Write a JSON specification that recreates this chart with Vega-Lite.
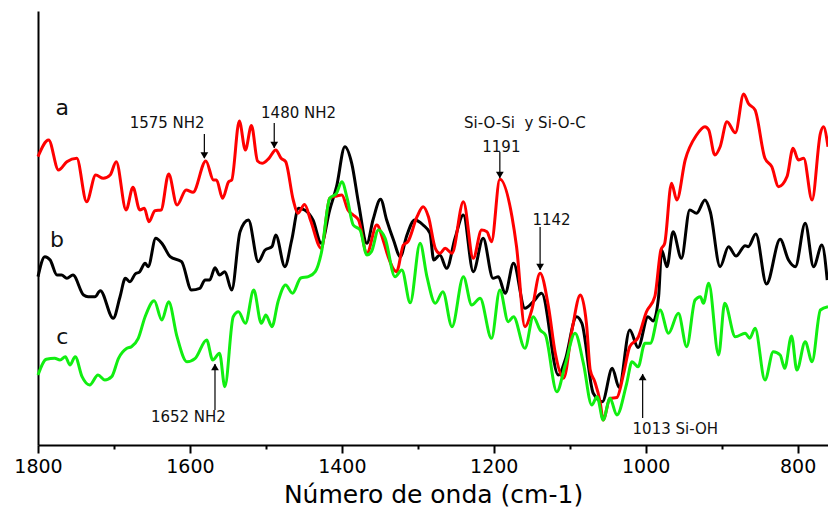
{
  "$schema": "https://vega.github.io/schema/vega-lite/v6.json",
  "width": 790,
  "height": 434,
  "autosize": "none",
  "padding": {"left": 38, "top": 11, "right": 0, "bottom": 68},
  "background": "white",
  "config": {"view": {"stroke": null}, "font": "DejaVu Sans"},
  "datasets": {
    "a": [
      {"wn":1800,"v":288.3},{"wn":1786,"v":305},{"wn":1773,"v":275},{"wn":1762,"v":283.3},{"wn":1749,"v":286.7},{"wn":1736,"v":243.3},{"wn":1724,"v":270},{"wn":1714,"v":266.7},{"wn":1705,"v":270},{"wn":1697,"v":283.3},{"wn":1684,"v":235},{"wn":1675,"v":257.7},{"wn":1666,"v":235},{"wn":1660,"v":236.7},{"wn":1654,"v":223.3},{"wn":1646,"v":234.3},{"wn":1638,"v":235},{"wn":1628,"v":271},{"wn":1617,"v":240},{"wn":1605,"v":255},{"wn":1596,"v":252.7},{"wn":1579,"v":284},{"wn":1569,"v":265},{"wn":1565,"v":265},{"wn":1557,"v":246.7},{"wn":1549,"v":263.3},{"wn":1545,"v":265},{"wn":1535,"v":324},{"wn":1527,"v":295},{"wn":1519,"v":319.5},{"wn":1511,"v":284},{"wn":1505,"v":281.7},{"wn":1496,"v":286.7},{"wn":1487,"v":295},{"wn":1480,"v":286.7},{"wn":1474,"v":283.3},{"wn":1464,"v":245},{"wn":1458,"v":231.7},{"wn":1449,"v":240.5},{"wn":1441,"v":224.3},{"wn":1427,"v":196.7},{"wn":1416,"v":246.7},{"wn":1407,"v":249},{"wn":1400,"v":250},{"wn":1392,"v":235},{"wn":1385,"v":230},{"wn":1378,"v":225},{"wn":1367,"v":191.7},{"wn":1354,"v":220},{"wn":1345,"v":203.3},{"wn":1339,"v":188.3},{"wn":1328,"v":173.3},{"wn":1319,"v":200},{"wn":1313,"v":203.3},{"wn":1301,"v":228.3},{"wn":1293,"v":238.3},{"wn":1286,"v":228.3},{"wn":1277,"v":196.7},{"wn":1271,"v":191.7},{"wn":1264,"v":196.7},{"wn":1255,"v":191.7},{"wn":1240,"v":243.3},{"wn":1227,"v":186.7},{"wn":1216,"v":215},{"wn":1209,"v":213.3},{"wn":1203,"v":203.3},{"wn":1192,"v":265.7},{"wn":1176,"v":228.3},{"wn":1170,"v":198.3},{"wn":1159,"v":118.3},{"wn":1150,"v":135},{"wn":1139,"v":171.7},{"wn":1128,"v":138.3},{"wn":1119,"v":91.7},{"wn":1108,"v":66.7},{"wn":1097,"v":115},{"wn":1086,"v":150},{"wn":1078,"v":121.7},{"wn":1073,"v":75},{"wn":1067,"v":63.3},{"wn":1060,"v":43.3},{"wn":1056,"v":25},{"wn":1047,"v":46.7},{"wn":1038,"v":47.5},{"wn":1029,"v":71.7},{"wn":1021,"v":98.3},{"wn":1010,"v":107.5},{"wn":999,"v":133.3},{"wn":988,"v":148.3},{"wn":980,"v":195},{"wn":975,"v":201.7},{"wn":966,"v":261.7},{"wn":959,"v":245},{"wn":948,"v":285},{"wn":933,"v":310},{"wn":922,"v":318.3},{"wn":917,"v":315},{"wn":909,"v":290},{"wn":902,"v":298.3},{"wn":893,"v":323.3},{"wn":882,"v":312.3},{"wn":871,"v":351},{"wn":865,"v":341.7},{"wn":856,"v":335},{"wn":843,"v":286.7},{"wn":834,"v":278.3},{"wn":825,"v":258.3},{"wn":814,"v":268.3},{"wn":806,"v":296.7},{"wn":799,"v":285},{"wn":792,"v":286.7},{"wn":781,"v":245},{"wn":770,"v":311.7},{"wn":766,"v":318.3},{"wn":760,"v":298.3}
    ],
    "b": [
      {"wn":1800,"v":168.3},{"wn":1791,"v":188.3},{"wn":1784,"v":185},{"wn":1775,"v":170},{"wn":1769,"v":170},{"wn":1762,"v":166.7},{"wn":1754,"v":170},{"wn":1740,"v":150},{"wn":1734,"v":148.3},{"wn":1725,"v":148.3},{"wn":1718,"v":154.3},{"wn":1701,"v":126.7},{"wn":1692,"v":148.3},{"wn":1685,"v":166.7},{"wn":1679,"v":163.3},{"wn":1672,"v":171},{"wn":1666,"v":173.3},{"wn":1659,"v":181.7},{"wn":1655,"v":178.3},{"wn":1645,"v":206.7},{"wn":1637,"v":201.7},{"wn":1626,"v":188.3},{"wn":1611,"v":183.3},{"wn":1598,"v":155},{"wn":1587,"v":156.7},{"wn":1580,"v":165},{"wn":1574,"v":165},{"wn":1567,"v":177.3},{"wn":1561,"v":170},{"wn":1554,"v":173.3},{"wn":1545,"v":155},{"wn":1534,"v":213.3},{"wn":1523,"v":225},{"wn":1510,"v":183.3},{"wn":1501,"v":195},{"wn":1492,"v":198.3},{"wn":1487,"v":210},{"wn":1475,"v":178.3},{"wn":1466,"v":205},{"wn":1457,"v":236.7},{"wn":1449,"v":235},{"wn":1438,"v":225},{"wn":1427,"v":201.7},{"wn":1416,"v":235},{"wn":1407,"v":258.3},{"wn":1396,"v":298.3},{"wn":1387,"v":281.7},{"wn":1378,"v":241.7},{"wn":1367,"v":201.7},{"wn":1359,"v":225},{"wn":1349,"v":245.7},{"wn":1341,"v":225},{"wn":1332,"v":205},{"wn":1323,"v":188.3},{"wn":1315,"v":208.3},{"wn":1304,"v":225},{"wn":1293,"v":220},{"wn":1284,"v":211.7},{"wn":1279,"v":185},{"wn":1271,"v":190},{"wn":1262,"v":176.7},{"wn":1251,"v":206.7},{"wn":1240,"v":230},{"wn":1227,"v":173.3},{"wn":1214,"v":206.7},{"wn":1201,"v":166.7},{"wn":1194,"v":168.3},{"wn":1185,"v":151.7},{"wn":1174,"v":181.7},{"wn":1159,"v":136.7},{"wn":1148,"v":143.3},{"wn":1137,"v":151.7},{"wn":1115,"v":70},{"wn":1106,"v":85},{"wn":1091,"v":128.3},{"wn":1084,"v":121.7},{"wn":1069,"v":51.7},{"wn":1057,"v":43.3},{"wn":1044,"v":76.7},{"wn":1035,"v":57.5},{"wn":1021,"v":115},{"wn":1010,"v":97.5},{"wn":997,"v":128.3},{"wn":990,"v":124},{"wn":983,"v":148.3},{"wn":979,"v":195},{"wn":972,"v":178.3},{"wn":964,"v":213.3},{"wn":953,"v":186.7},{"wn":942,"v":235},{"wn":933,"v":231.7},{"wn":922,"v":245},{"wn":915,"v":233.3},{"wn":902,"v":178.3},{"wn":891,"v":198.3},{"wn":881,"v":189},{"wn":869,"v":199.3},{"wn":865,"v":198.3},{"wn":855,"v":211},{"wn":841,"v":161},{"wn":823,"v":205.7},{"wn":812,"v":185},{"wn":803,"v":178.3},{"wn":790,"v":221.7},{"wn":779,"v":178.3},{"wn":768,"v":200},{"wn":761,"v":165}
    ],
    "c": [
      {"wn":1800,"v":70},{"wn":1789,"v":85.7},{"wn":1778,"v":86.7},{"wn":1771,"v":85},{"wn":1764,"v":88.3},{"wn":1758,"v":80},{"wn":1751,"v":88.3},{"wn":1742,"v":68.3},{"wn":1732,"v":60},{"wn":1721,"v":70},{"wn":1712,"v":65},{"wn":1703,"v":68.3},{"wn":1694,"v":86.7},{"wn":1683,"v":96.7},{"wn":1677,"v":98.3},{"wn":1668,"v":106.7},{"wn":1659,"v":128.3},{"wn":1647,"v":144.3},{"wn":1637,"v":125},{"wn":1628,"v":143.3},{"wn":1617,"v":108.3},{"wn":1604,"v":83.3},{"wn":1593,"v":86.7},{"wn":1578,"v":105},{"wn":1570,"v":85},{"wn":1561,"v":91.7},{"wn":1554,"v":58.3},{"wn":1543,"v":128.3},{"wn":1536,"v":133.3},{"wn":1527,"v":121.7},{"wn":1516,"v":155},{"wn":1506,"v":121.7},{"wn":1500,"v":130},{"wn":1492,"v":118.3},{"wn":1484,"v":143.3},{"wn":1474,"v":160},{"wn":1465,"v":151.7},{"wn":1454,"v":167},{"wn":1444,"v":168.3},{"wn":1435,"v":173.3},{"wn":1427,"v":192},{"wn":1416,"v":246.7},{"wn":1407,"v":251.7},{"wn":1400,"v":263.3},{"wn":1393,"v":246.7},{"wn":1385,"v":220},{"wn":1376,"v":215},{"wn":1367,"v":190},{"wn":1361,"v":193.3},{"wn":1352,"v":215},{"wn":1343,"v":206.7},{"wn":1330,"v":168.3},{"wn":1321,"v":175},{"wn":1310,"v":142.3},{"wn":1297,"v":201.7},{"wn":1288,"v":168.3},{"wn":1277,"v":141.7},{"wn":1267,"v":153.3},{"wn":1255,"v":118.3},{"wn":1240,"v":168.3},{"wn":1229,"v":140},{"wn":1218,"v":146.7},{"wn":1203,"v":106.7},{"wn":1192,"v":155},{"wn":1181,"v":123.3},{"wn":1174,"v":128.3},{"wn":1159,"v":96.7},{"wn":1148,"v":128.3},{"wn":1139,"v":115},{"wn":1132,"v":110},{"wn":1117,"v":53.3},{"wn":1106,"v":80},{"wn":1093,"v":111.7},{"wn":1082,"v":81.7},{"wn":1071,"v":40},{"wn":1064,"v":48.3},{"wn":1056,"v":25},{"wn":1047,"v":46.7},{"wn":1038,"v":30},{"wn":1025,"v":61.7},{"wn":1018,"v":83.3},{"wn":1010,"v":78.3},{"wn":1001,"v":101.7},{"wn":994,"v":101.7},{"wn":981,"v":135},{"wn":970,"v":111.7},{"wn":957,"v":131.7},{"wn":946,"v":98.3},{"wn":935,"v":145},{"wn":928,"v":148.3},{"wn":924,"v":141.7},{"wn":917,"v":161.7},{"wn":904,"v":90},{"wn":896,"v":141.7},{"wn":882,"v":108.3},{"wn":869,"v":111.7},{"wn":863,"v":106.7},{"wn":856,"v":116.7},{"wn":843,"v":65},{"wn":832,"v":93.3},{"wn":823,"v":90},{"wn":817,"v":76.7},{"wn":808,"v":109},{"wn":801,"v":75},{"wn":790,"v":103.3},{"wn":781,"v":83.3},{"wn":770,"v":135},{"wn":760,"v":138.3}
    ],
    "letters": [
      {"wn":1768,"v":330,"label":"a"},
      {"wn":1775,"v":198.3,"label":"b"},
      {"wn":1768,"v":101,"label":"c"}
    ],
    "notes": [
      {"wn":1630,"v":316.7,"label":"1575 NH2"},
      {"wn":1457,"v":326.7,"label":"1480 NH2"},
      {"wn":1159,"v":316.7,"label":"Si-O-Si\u00a0 y Si-O-C"},
      {"wn":1190,"v":293.3,"label":"1191"},
      {"wn":1124,"v":220,"label":"1142"},
      {"wn":1602,"v":23.3,"label":"1652 NH2"},
      {"wn":961,"v":11,"label":"1013 Si-OH"}
    ],
    "arrows": [
      {"wn":1581,"y1":311,"y2":287},
      {"wn":1489,"y1":322,"y2":297},
      {"wn":1192,"y1":293,"y2":267},
      {"wn":1139,"y1":218,"y2":175},
      {"wn":1567,"y1":35,"y2":81},
      {"wn":1004,"y1":27,"y2":71}
    ],
    "heads": [
      {"wn":1581,"v":289.5,"dir":"down"},
      {"wn":1489,"v":300,"dir":"down"},
      {"wn":1192,"v":270,"dir":"down"},
      {"wn":1139,"v":178,"dir":"down"},
      {"wn":1567,"v":78,"dir":"up"},
      {"wn":1004,"v":68,"dir":"up"}
    ]
  },
  "encoding": {
    "x": {"field": "wn", "type": "quantitative"},
    "y": {"field": "v", "type": "quantitative"}
  },
  "layer": [
    {
      "data": {"name": "b"},
      "mark": {"type": "line", "color": "#000000", "strokeWidth": 3, "interpolate": "monotone"},
      "encoding": {
        "x": {
          "field": "wn", "type": "quantitative",
          "scale": {"domain": [760, 1800], "reverse": true, "nice": false, "zero": false},
          "axis": {
            "values": [1800, 1700, 1600, 1500, 1400, 1300, 1200, 1100, 1000, 900, 800],
            "labelExpr": "datum.value % 200 === 0 ? '' + datum.value : ''",
            "tickSize": {"condition": {"test": "datum.value % 200 === 0", "value": 8}, "value": 4},
            "grid": false,
            "domainColor": "#000000", "domainWidth": 2,
            "tickColor": "#000000", "tickWidth": 2,
            "labelColor": "#000000", "labelFontSize": 19, "labelFont": "DejaVu Sans",
            "labelPadding": 4, "labelOverlap": false, "labelFlush": false,
            "title": "Número de onda (cm-1)",
            "titleFont": "DejaVu Sans", "titleFontSize": 25, "titleFontWeight": "normal",
            "titleColor": "#000000", "titlePadding": 6
          }
        },
        "y": {
          "field": "v", "type": "quantitative",
          "scale": {"domain": [0, 434], "nice": false, "zero": false},
          "axis": {"ticks": false, "labels": false, "title": null, "grid": false, "domainColor": "#000000", "domainWidth": 2}
        }
      }
    },
    {
      "data": {"name": "a"},
      "mark": {"type": "line", "color": "#ff0000", "strokeWidth": 3, "interpolate": "monotone"}
    },
    {
      "data": {"name": "c"},
      "mark": {"type": "line", "color": "#11ee11", "strokeWidth": 3, "interpolate": "monotone"}
    },
    {
      "data": {"name": "arrows"},
      "mark": {"type": "rule", "color": "#000000", "strokeWidth": 1.2},
      "encoding": {
        "x": {"field": "wn", "type": "quantitative"},
        "y": {"field": "y1", "type": "quantitative"},
        "y2": {"field": "y2"}
      }
    },
    {
      "data": {"name": "heads"},
      "mark": {"type": "point", "filled": true, "color": "#000000", "size": 60, "opacity": 1},
      "encoding": {
        "shape": {"field": "dir", "type": "nominal", "scale": {"domain": ["down", "up"], "range": ["triangle-down", "triangle-up"]}, "legend": null}
      }
    },
    {
      "data": {"name": "notes"},
      "mark": {"type": "text", "font": "DejaVu Sans", "fontSize": 15, "color": "#111111", "align": "center", "baseline": "alphabetic"},
      "encoding": {"text": {"field": "label"}}
    },
    {
      "data": {"name": "letters"},
      "mark": {"type": "text", "font": "DejaVu Sans", "fontSize": 22, "color": "#111111", "align": "center", "baseline": "alphabetic"},
      "encoding": {"text": {"field": "label"}}
    }
  ]
}
